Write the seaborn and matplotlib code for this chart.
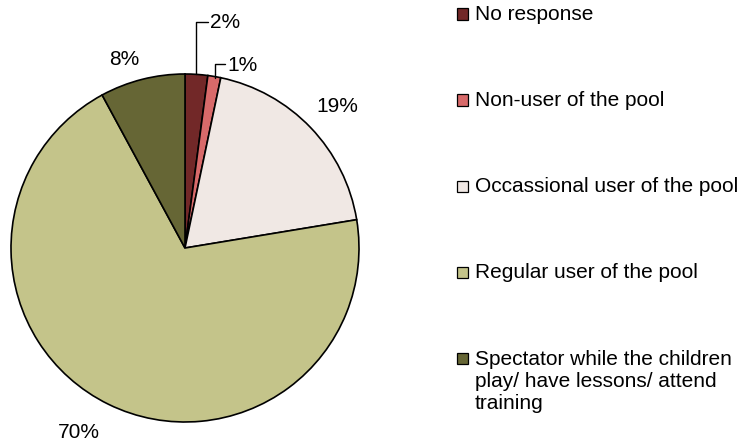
import matplotlib
matplotlib.use("Agg")
import matplotlib.pyplot as plt
import seaborn as sns
from matplotlib.patches import Rectangle

categories = ["No response", "Non-user of the pool", "Occassional user of the pool",
              "Regular user of the pool",
              "Spectator while the children\nplay/ have lessons/ attend\ntraining"]
values = [2.1, 1.2, 19.1, 69.7, 7.9]
pct_labels = ["2%", "1%", "19%", "70%", "8%"]
colors = ["#722828", "#D86A6A", "#F0E8E4", "#C4C48A", "#666635"]

sns.set_theme(style="white")
plt.rcParams['font.family'] = ['Liberation Sans', 'DejaVu Sans']
plt.rcParams['text.color'] = 'black'

W, H = 745, 445
fig = plt.figure(figsize=(W / 100, H / 100), dpi=100)
cx, cy, r = 185, 248, 174
ax = fig.add_axes([(cx - r) / W, (H - cy - r) / H, 2 * r / W, 2 * r / H])
wedges, _ = ax.pie(values, colors=colors, startangle=90, counterclock=False,
                   wedgeprops=dict(edgecolor="black", linewidth=1.2))
ax.set_xlim(-1, 1)
ax.set_ylim(-1, 1)
ax.set_aspect("equal")
ax.axis("off")

def d(px, py):
    return ((px - cx) / r, (cy - py) / r)

fs = 15
# leader lines for small slices
x0, y0 = d(196, 74); x1, y1 = d(196, 21.5); x2, y2 = d(208, 21.5)
ax.plot([x0, x1, x2], [y0, y1, y2], color="black", lw=1.0, clip_on=False)
ax.text(*d(210, 22), pct_labels[0], fontsize=fs, ha="left", va="center")
x0, y0 = d(214.5, 78); x1, y1 = d(214.5, 64); x2, y2 = d(225, 64)
ax.plot([x0, x1, x2], [y0, y1, y2], color="black", lw=1.0, clip_on=False)
ax.text(*d(227, 65), pct_labels[1], fontsize=fs, ha="left", va="center")
ax.text(*d(337, 106), pct_labels[2], fontsize=fs, ha="center", va="center")
ax.text(*d(79, 433), pct_labels[3], fontsize=fs, ha="center", va="center")
ax.text(*d(124, 59), pct_labels[4], fontsize=fs, ha="center", va="center")

# legend
rows = [14, 100, 187, 272, 358]
for cat, col, yy in zip(categories, colors, rows):
    fig.add_artist(Rectangle(((457) / W, (H - yy - 5.5) / H), 11 / W, 11 / H,
                             facecolor=col, edgecolor="black", linewidth=0.9,
                             transform=fig.transFigure))
    if "\n" in cat:
        fig.text(475 / W, (H - yy + 8) / H, cat, fontsize=fs, ha="left", va="top",
                 linespacing=1.2)
    else:
        fig.text(475 / W, (H - yy) / H, cat, fontsize=fs, ha="left", va="center")

fig.savefig("out.png", dpi=100)
